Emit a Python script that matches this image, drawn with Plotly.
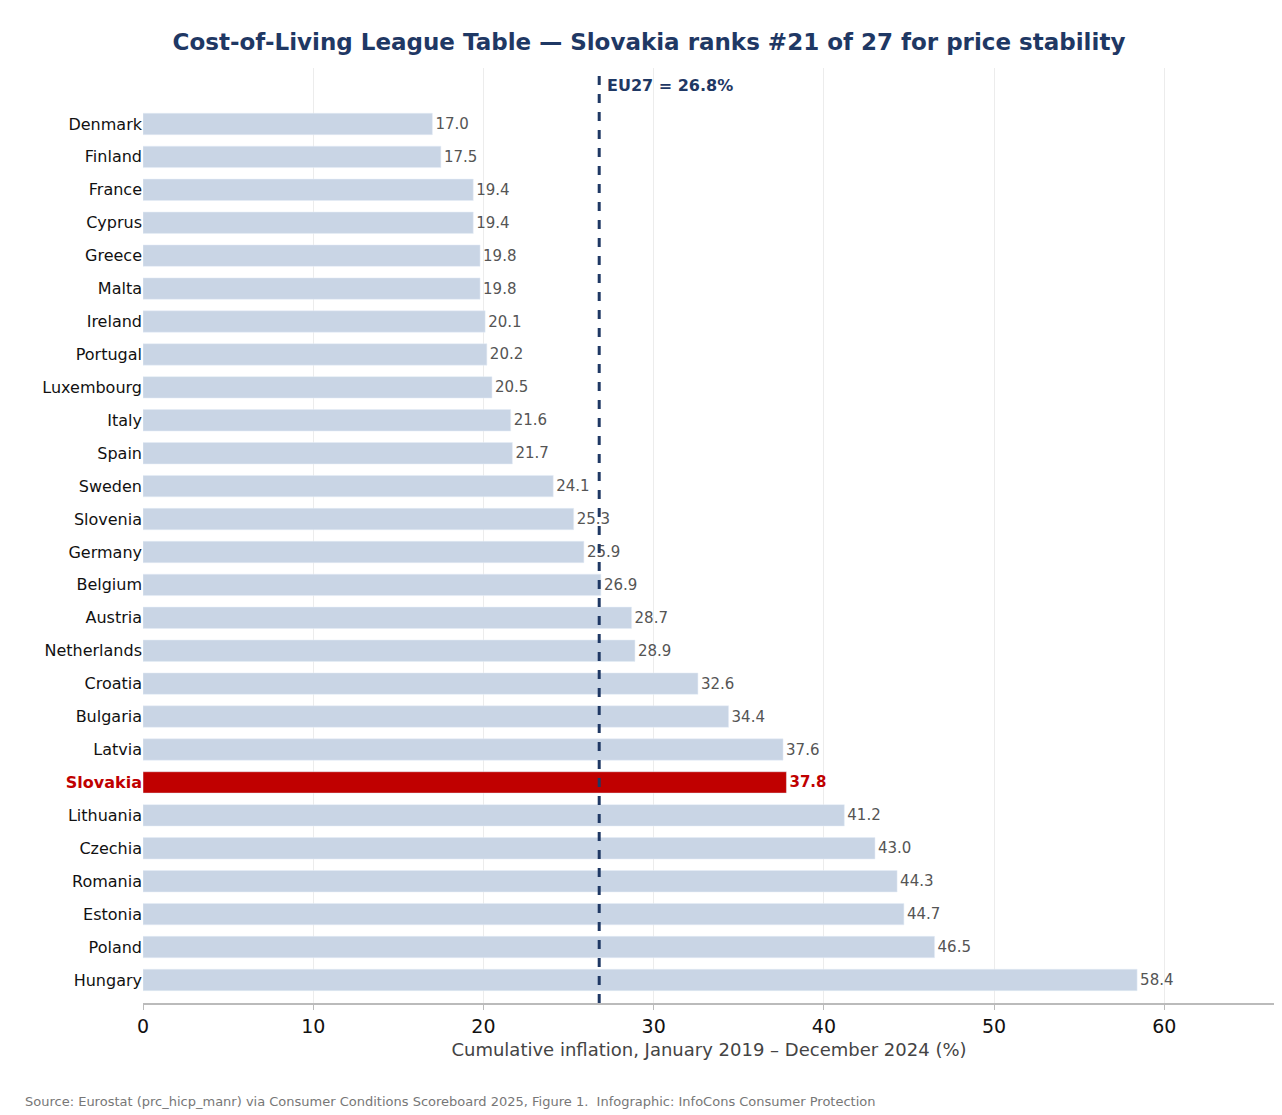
import plotly.graph_objects as go

countries = ['Denmark', 'Finland', 'France', 'Cyprus', 'Greece', 'Malta', 'Ireland', 'Portugal',
             'Luxembourg', 'Italy', 'Spain', 'Sweden', 'Slovenia', 'Germany', 'Belgium', 'Austria',
             'Netherlands', 'Croatia', 'Bulgaria', 'Latvia', 'Slovakia', 'Lithuania', 'Czechia',
             'Romania', 'Estonia', 'Poland', 'Hungary']
inflation = [17.0, 17.5, 19.4, 19.4, 19.8, 19.8, 20.1, 20.2, 20.5, 21.6, 21.7, 24.1, 25.3, 25.9,
             26.9, 28.7, 28.9, 32.6, 34.4, 37.6, 37.8, 41.2, 43.0, 44.3, 44.7, 46.5, 58.4]
eu27 = 26.8
highlight = 'Slovakia'

colors = ['#c00000' if c == highlight else '#c9d5e5' for c in countries]
labels = [f'<b>{v:.1f}</b>' if c == highlight else f'{v:.1f}' for c, v in zip(countries, inflation)]
label_colors = ['#c00000' if c == highlight else '#555555' for c in countries]
tick_text = [f'<span style="color:#c00000"><b>{c}</b></span>' if c == highlight else c for c in countries]

fig = go.Figure(go.Bar(
    x=inflation, y=countries, orientation='h',
    marker_color=colors, width=0.65,
    text=labels, textposition='outside', cliponaxis=False,
    textfont=dict(size=15, color=label_colors),
))

fig.add_vline(x=eu27, line=dict(color='#1f3864', width=3, dash='dash'))
fig.add_annotation(x=eu27, y=1.0, yref='paper', text=f'<b>EU27 = {eu27}%</b>',
                   showarrow=False, xanchor='left', yanchor='top', xshift=6, yshift=-6,
                   font=dict(size=16, color='#1f3864'))
# source line under the chart
fig.add_annotation(x=-0.106, y=-0.105, xref='paper', yref='paper', xanchor='left', yanchor='middle',
                   showarrow=False,
                   text='Source: Eurostat (prc_hicp_manr) via Consumer Conditions Scoreboard 2025, Figure 1.  Infographic: InfoCons Consumer Protection',
                   font=dict(size=13, color='#777777'))

fig.update_layout(
    width=1282, height=1115,
    margin=dict(l=135, r=15, t=60, b=120),
    plot_bgcolor='white', paper_bgcolor='white',
    font=dict(family='DejaVu Sans', color='#222222'),
    title=dict(text='<b>Cost-of-Living League Table — Slovakia ranks #21 of 27 for price stability</b>',
               x=0.5, xanchor='center', y=0.977, font=dict(size=23, color='#1f3864')),
    showlegend=False,
)
fig.update_xaxes(range=[0, 66.5], dtick=10, showgrid=True, gridcolor='#ececec', gridwidth=1,
                 zeroline=False, showline=True, linecolor='#bbbbbb', linewidth=2,
                 ticks='outside', ticklen=5, tickcolor='#bbbbbb', tickfont=dict(size=19, color='#111111'),
                 title=dict(text='Cumulative inflation, January 2019 – December 2024 (%)',
                            font=dict(size=18, color='#444444'), standoff=8))
fig.update_yaxes(range=[26.7, -1.7], tickvals=countries, ticktext=tick_text,
                 tickfont=dict(size=16, color='#111111'), showgrid=False, ticklen=0, ticks='')

fig.write_html('out.html')
